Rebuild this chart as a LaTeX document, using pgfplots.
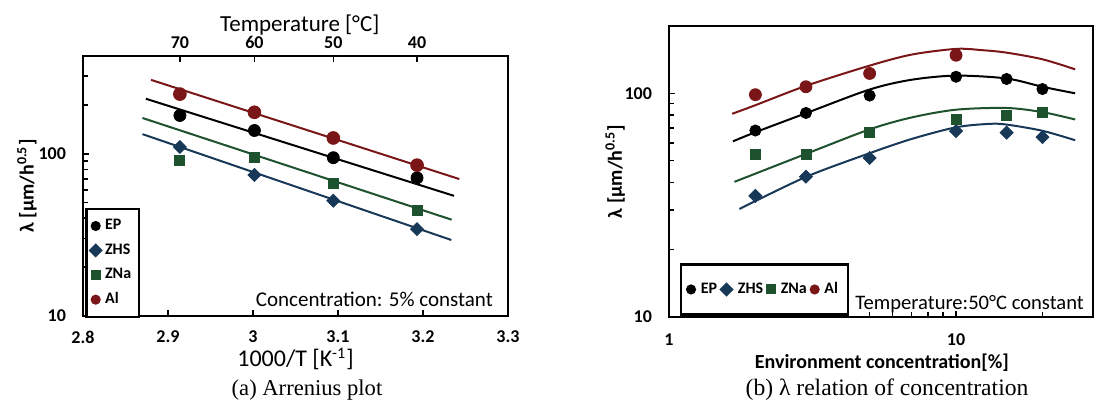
\documentclass[border=0pt]{standalone}
\usepackage{fontspec}
\setmainfont{Carlito}
\newfontfamily\capfont{Liberation Serif}
\usepackage{pgfplots}
\pgfplotsset{compat=1.18}

\definecolor{alred}{RGB}{122,22,24}
\definecolor{znagreen}{RGB}{30,82,46}
\definecolor{zhsblue}{RGB}{24,56,88}

\pgfplotsset{
  legend image code/.code={\draw[#1,mark size=1.9pt] plot coordinates {(0.12cm,0cm)};},
  epm/.style={only marks, mark=*, mark size=3pt, black},
  zhsm/.style={only marks, mark=square*, mark size=2.3pt, mark options={rotate=45}, zhsblue},
  znam/.style={only marks, mark=square*, mark size=2.5pt, znagreen},
  alm/.style={only marks, mark=*, mark size=3.2pt, alred},
  fitline/.style={line width=1pt, no marks, forget plot},
}

\begin{document}
\begin{tikzpicture}
\useasboundingbox (0,0) rectangle (549pt,201pt);

% (a) Arrhenius plot
\begin{axis}[
  scale only axis, ymode=log,
  tick align=inside, xtick pos=bottom, ytick pos=left,
  axis line style={line width=1.3pt},
  major tick style={black, line width=0.8pt}, minor tick style={black, line width=0.8pt},
  major tick length=3pt, minor tick length=2.5pt,
  tick label style={font=\bfseries\fontsize{9}{10}\selectfont},
  xticklabel shift=4pt, yticklabel shift=5pt,
  at={(41.5pt,43pt)}, anchor=south west,
  width=212.5pt, height=130pt,
  xmin=2.8, xmax=3.3, ymin=10, ymax=400,
  xtick={2.8,2.9,3.0,3.1,3.2,3.3},
  xticklabels={2.8,2.9,3,3.1,3.2,3.3},
  ytick={10,100}, yticklabels={10,100},
  minor ytick={20,30,40,50,60,70,80,90,200,300,400},
  xlabel={1000/T [K\textsuperscript{-1}]},
  xlabel style={font=\fontsize{12}{14}\selectfont, at={(axis description cs:0.5,-0.165)}, anchor=center},
  ylabel={λ [μm/h\textsuperscript{0.5}]},
  ylabel style={font=\bfseries\fontsize{10}{12}\selectfont, at={(axis description cs:-0.132,0.5)}, anchor=center},
  legend style={at={(0.005,0.415)}, anchor=north west, draw=black, line width=1.2pt,
    font=\bfseries\fontsize{8}{9}\selectfont, row sep=1.5pt, inner xsep=2pt, inner ysep=3pt},
  legend cell align=left,
]
\addplot[fitline, alred] coordinates {(2.880,285) (3.2427,69.8)};
\addplot[fitline, black] coordinates {(2.874,218) (3.2365,55)};
\addplot[fitline, znagreen] coordinates {(2.870,166) (3.2337,39.2)};
\addplot[fitline, zhsblue] coordinates {(2.870,132) (3.2333,29.4)};
\addplot[epm] coordinates {(2.914,172) (3.0017,139) (3.0945,94.5) (3.193,71)};
\addlegendentry{EP}
\addplot[zhsm] coordinates {(2.914,110) (3.0017,74) (3.0945,51.3) (3.193,34.3)};
\addlegendentry{ZHS}
\addplot[znam] coordinates {(2.914,90.6) (3.0017,95.4) (3.0945,66) (3.193,44.7)};
\addlegendentry{ZNa}
\addplot[alm] coordinates {(2.914,233) (3.0017,180) (3.0945,125) (3.193,85)};
\addlegendentry{Al}
\node[anchor=base east, font=\fontsize{10.5}{12}\selectfont] at (rel axis cs:0.981,0.035) {Concentration: 5\% constant};
\end{axis}

% top temperature axis
\begin{axis}[
  at={(41.5pt,43pt)}, anchor=south west, scale only axis,
  width=212.5pt, height=130pt,
  xmin=2.8, xmax=3.3, ymin=0, ymax=1,
  axis x line*=top, axis y line=none,
  axis line style={line width=1.3pt},
  tick align=inside,
  major tick style={black, line width=0.8pt}, major tick length=3pt,
  xtick={2.914,3.0017,3.0945,3.193}, xticklabels={70,60,50,40},
  tick label style={font=\bfseries\fontsize{9}{10}\selectfont},
  xticklabel shift=0pt,
  xlabel={Temperature [°C]},
  xlabel style={font=\fontsize{11.5}{13}\selectfont, at={(axis description cs:0.51,1.12)}, anchor=center},
]
\end{axis}

% (b) concentration
\begin{axis}[
  scale only axis, xmode=log, ymode=log,
  tick align=inside, xtick pos=bottom, ytick pos=left,
  axis line style={line width=1.3pt},
  major tick style={black, line width=0.8pt}, minor tick style={black, line width=0.8pt},
  major tick length=3pt, minor tick length=2.5pt,
  tick label style={font=\bfseries\fontsize{9}{10}\selectfont},
  xticklabel shift=5pt, yticklabel shift=5pt,
  at={(334.5pt,42.5pt)}, anchor=south west,
  width=212pt, height=145.5pt,
  xmin=1, xmax=30, ymin=10, ymax=200,
  xtick={1,10}, xticklabels={1,10},
  minor xtick={2,3,4,5,6,7,8,9,20,30},
  ytick={10,100}, yticklabels={10,100},
  minor ytick={20,30,40,50,60,70,80,90,200},
  xlabel={Environment concentration[\%]},
  xlabel style={font=\bfseries\fontsize{10}{12}\selectfont, at={(axis description cs:0.502,-0.158)}, anchor=center},
  ylabel={λ [μm/h\textsuperscript{0.5}]},
  ylabel style={font=\bfseries\fontsize{10}{12}\selectfont, at={(axis description cs:-0.127,0.5)}, anchor=center},
  legend style={at={(0.026,0.185)}, anchor=north west, draw=black, line width=1.2pt,
    font=\bfseries\fontsize{8}{10}\selectfont, inner xsep=3pt, inner ysep=7pt,
    /tikz/every odd column/.append style={column sep=1pt}},
  legend columns=4,
]
\addplot[fitline, smooth, alred] coordinates {(1.66,81) (2,88.5) (3,108) (5,133) (7,149) (10,158) (12.3,156) (15,152) (20,142) (26,128)};
\addplot[fitline, smooth, black] coordinates {(1.67,61) (2,67) (3,81.5) (5,104) (7,115) (10,120) (15,116.5) (20,107) (26,100)};
\addplot[fitline, smooth, znagreen] coordinates {(1.69,40.2) (3,53.6) (5,69) (7,78) (10,84.5) (15,86) (20,82.4) (26,76.4)};
\addplot[fitline, smooth, zhsblue] coordinates {(1.76,30.4) (3,42.3) (5,54) (7,62.5) (10,70.5) (13,73) (15,72.5) (20,68) (26,61.7)};
\addplot[epm, mark size=2.8pt] coordinates {(2,68.2) (3,81.7) (5,97.7) (10,118.6) (15,115.9) (20,104.5)};
\addlegendentry{EP}
\addplot[zhsm] coordinates {(2,34.8) (3,42.4) (5,51.4) (10,67.8) (15,66.7) (20,63.7)};
\addlegendentry{ZHS}
\addplot[znam] coordinates {(2,53.2) (3,53.4) (5,67.1) (10,76.4) (15,79.6) (20,82.4)};
\addlegendentry{ZNa}
\addplot[alm, mark size=3pt] coordinates {(2,98.6) (3,107) (5,122.7) (10,148)};
\addlegendentry{Al}
\node[anchor=base east, font=\fontsize{10.3}{12}\selectfont] at (rel axis cs:0.995,0.027) {Temperature:50°C constant};
\end{axis}

\node[font=\capfont\fontsize{11.3}{13}\selectfont, anchor=base] at (153.5pt,3.5pt) {(a) Arrenius plot};
\node[font=\capfont\fontsize{11.8}{13}\selectfont, anchor=base] at (443.5pt,3.5pt) {(b) λ relation of concentration};
\end{tikzpicture}
\end{document}
